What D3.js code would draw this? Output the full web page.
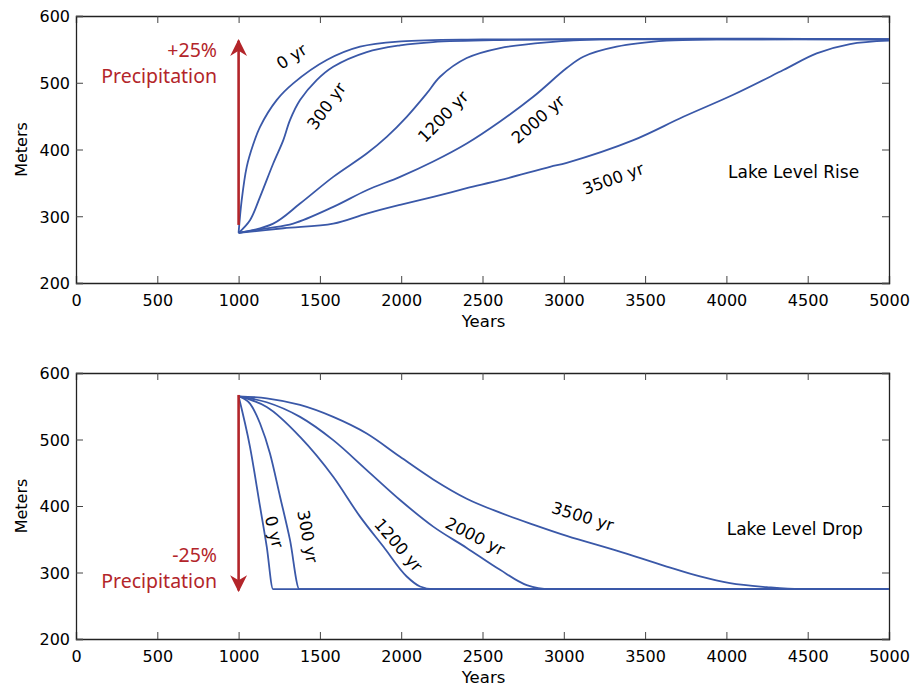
<!DOCTYPE html>
<html lang="en">
<head>
<meta charset="UTF-8">
<script src="https://cdn.jsdelivr.net/npm/d3@7"></script>
<style>
  body { margin: 0; background: #fff; }
  .tick text { font-family: "DejaVu Sans", sans-serif; font-size: 16px; fill: #000; }
</style>
</head>
<body>
<div id="chart"></div>
<script>
// tick values
const xTicks = [0, 500, 1000, 1500, 2000, 2500, 3000, 3500, 4000, 4500, 5000];
const yTicks = [200, 300, 400, 500, 600];
const lagNames = ["0 yr", "300 yr", "1200 yr", "2000 yr", "3500 yr"];

// lake level rise, [year, meters]
const rise0 = [[1000,275],[1019,324],[1050,374],[1089,407],[1132,434],[1234,474],[1336,499],[1542,534],[1747,554],[2000,562],[2500,565],[5000,565]];
const rise300 = [[1000,275],[1070,294],[1132,329],[1213,379],[1275,414],[1316,444],[1378,474],[1480,504],[1582,524],[1788,546],[1993,556],[2196,561],[2608,564],[3222,565],[5000,565]];
const rise1200 = [[1000,275],[1213,289],[1378,319],[1582,359],[1788,394],[1911,419],[2034,449],[2157,484],[2239,509],[2403,537],[2608,552],[2915,561],[3222,565],[5000,565]];
const rise2000 = [[1000,275],[1173,282],[1336,289],[1582,314],[1788,339],[1993,359],[2197,382],[2403,409],[2608,442],[2812,479],[3018,522],[3120,539],[3325,554],[3633,563],[3940,565],[5000,565]];
const rise3500 = [[1000,275],[1275,282],[1582,289],[1788,304],[1993,317],[2197,329],[2403,342],[2608,354],[2915,374],[3018,380],[3428,414],[3735,449],[4042,482],[4350,519],[4555,544],[4760,558],[5000,563]];

// lake level drop, [year, meters]
const drop0 = [[1000,565],[1070,489],[1132,399],[1173,339],[1212,275],[5000,275]];
const drop300 = [[1000,565],[1070,554],[1132,524],[1193,479],[1255,414],[1316,349],[1374,275],[5000,275]];
const drop1200 = [[1000,565],[1070,560],[1173,549],[1378,504],[1582,444],[1747,384],[1890,339],[2034,294],[2116,279],[2197,275],[5000,275]];
const drop2000 = [[1000,565],[1173,556],[1378,534],[1582,499],[1788,454],[1993,409],[2197,369],[2403,337],[2608,304],[2772,281],[2915,275],[5000,275]];
const drop3500 = [[1000,565],[1173,562],[1378,552],[1582,534],[1788,509],[1993,474],[2197,440],[2403,411],[2608,390],[2812,372],[3018,355],[3325,333],[3633,309],[3838,294],[4022,284],[4248,278],[4453,275],[5000,275]];

const width = 912, height = 688;
const left = 76, right = 889;
const blue = "#3a58a8", red = "#b3252a";

const svg = d3.select("#chart").append("svg")
  .attr("width", width).attr("height", height)
  .style("font-family", "DejaVu Sans, sans-serif");

svg.append("defs").append("marker")
  .attr("id", "head")
  .attr("viewBox", "0 0 10 10")
  .attr("refX", 9).attr("refY", 5)
  .attr("markerWidth", 6.5).attr("markerHeight", 8)
  .attr("markerUnits", "strokeWidth")
  .attr("orient", "auto")
  .append("path")
  .attr("d", "M0,0 L10,5 L0,10 L3,5 Z")
  .attr("fill", red);

function drawPanel(opts) {
  const x = d3.scaleLinear().domain([0, 5000]).range([left, right]);
  const y = d3.scaleLinear().domain([200, 600]).range([opts.bottom, opts.top]);
  const g = svg.append("g");

  // ticks on all sides, pointing inward
  const xAxisG = g.append("g").attr("transform", `translate(0,${opts.bottom})`)
    .call(d3.axisBottom(x).tickValues(xTicks).tickSize(-7).tickFormat(d3.format("d")));
  xAxisG.selectAll(".tick text").attr("y", 23).attr("dy", null);
  g.append("g").attr("transform", `translate(0,${opts.top})`)
    .call(d3.axisTop(x).tickValues(xTicks).tickSize(-7).tickFormat(""));
  const yAxisG = g.append("g").attr("transform", `translate(${left},0)`)
    .call(d3.axisLeft(y).tickValues(yTicks).tickSize(-7).tickPadding(6).tickFormat(d3.format("d")));
  yAxisG.selectAll(".tick text").attr("x", -6).attr("dy", "0.36em");
  g.append("g").attr("transform", `translate(${right},0)`)
    .call(d3.axisRight(y).tickValues(yTicks).tickSize(-7).tickFormat(""));
  g.selectAll(".domain").attr("stroke", "#222").attr("stroke-width", 1.3);
  g.selectAll(".tick line").attr("stroke", "#444").attr("stroke-width", 1);

  // axis titles
  g.append("text")
    .attr("x", (left + right) / 2 + 1).attr("y", opts.bottom + 44)
    .attr("text-anchor", "middle").attr("font-size", 16.5).attr("fill", "#000")
    .text("Years");
  g.append("text")
    .attr("transform", `translate(27,${(opts.top + opts.bottom) / 2}) rotate(-90)`)
    .attr("text-anchor", "middle").attr("font-size", 16).attr("fill", "#000")
    .text("Meters");

  // curves
  const line = d3.line().x(d => x(d[0])).y(d => y(d[1])).curve(opts.curve);
  g.append("g").selectAll("path")
    .data(opts.series).enter().append("path")
    .attr("d", line)
    .attr("fill", "none").attr("stroke", blue).attr("stroke-width", 1.8);

  // arrow
  g.append("line")
    .attr("x1", x(1000)).attr("x2", x(1000))
    .attr("y1", y(opts.arrow[0])).attr("y2", y(opts.arrow[1]))
    .attr("stroke", red).attr("stroke-width", 2.6)
    .attr("marker-end", "url(#head)");

  // precipitation label
  const pt = g.append("text")
    .attr("text-anchor", "end").attr("fill", red)
    .attr("font-family", "Noto Sans, sans-serif").attr("font-size", 19.5);
  pt.append("tspan").attr("x", 217).attr("y", opts.precipY).text(opts.change);
  pt.append("tspan").attr("x", 217).attr("y", opts.precipY + 26).text("Precipitation");

  // curve labels
  g.append("g").selectAll("text")
    .data(opts.labels).enter().append("text")
    .attr("transform", d => `translate(${x(d.at[0])},${y(d.at[1])}) rotate(${d.angle})`)
    .attr("text-anchor", "middle").attr("dominant-baseline", "central")
    .attr("font-size", 16.5).attr("fill", "#000")
    .text((d, i) => lagNames[i]);

  g.append("text")
    .attr("x", x(opts.title.at[0])).attr("y", y(opts.title.at[1]))
    .attr("font-size", 17).attr("fill", "#000")
    .text(opts.title.text);
}

drawPanel({
  top: 16, bottom: 283,
  series: [rise0, rise300, rise1200, rise2000, rise3500],
  curve: d3.curveCatmullRom.alpha(0.5),
  arrow: [287, 563],
  change: "+25%", precipY: 57,
  labels: [
    { at: [1327, 539], angle: -33 },
    { at: [1542, 465], angle: -54 },
    { at: [2259, 449], angle: -46 },
    { at: [2843, 445], angle: -41 },
    { at: [3304, 356], angle: -20 }
  ],
  title: { text: "Lake Level Rise", at: [4010, 358] }
});

drawPanel({
  top: 373, bottom: 639,
  series: [drop0, drop300, drop1200, drop2000, drop3500],
  curve: d3.curveMonotoneX,
  arrow: [567, 273],
  change: "-25%", precipY: 562,
  labels: [
    { at: [1218, 361], angle: 76 },
    { at: [1423, 354], angle: 80 },
    { at: [1982, 341], angle: 49 },
    { at: [2454, 354], angle: 27 },
    { at: [3116, 384], angle: 17 }
  ],
  title: { text: "Lake Level Drop", at: [4002, 356] }
});
</script>
</body>
</html>
